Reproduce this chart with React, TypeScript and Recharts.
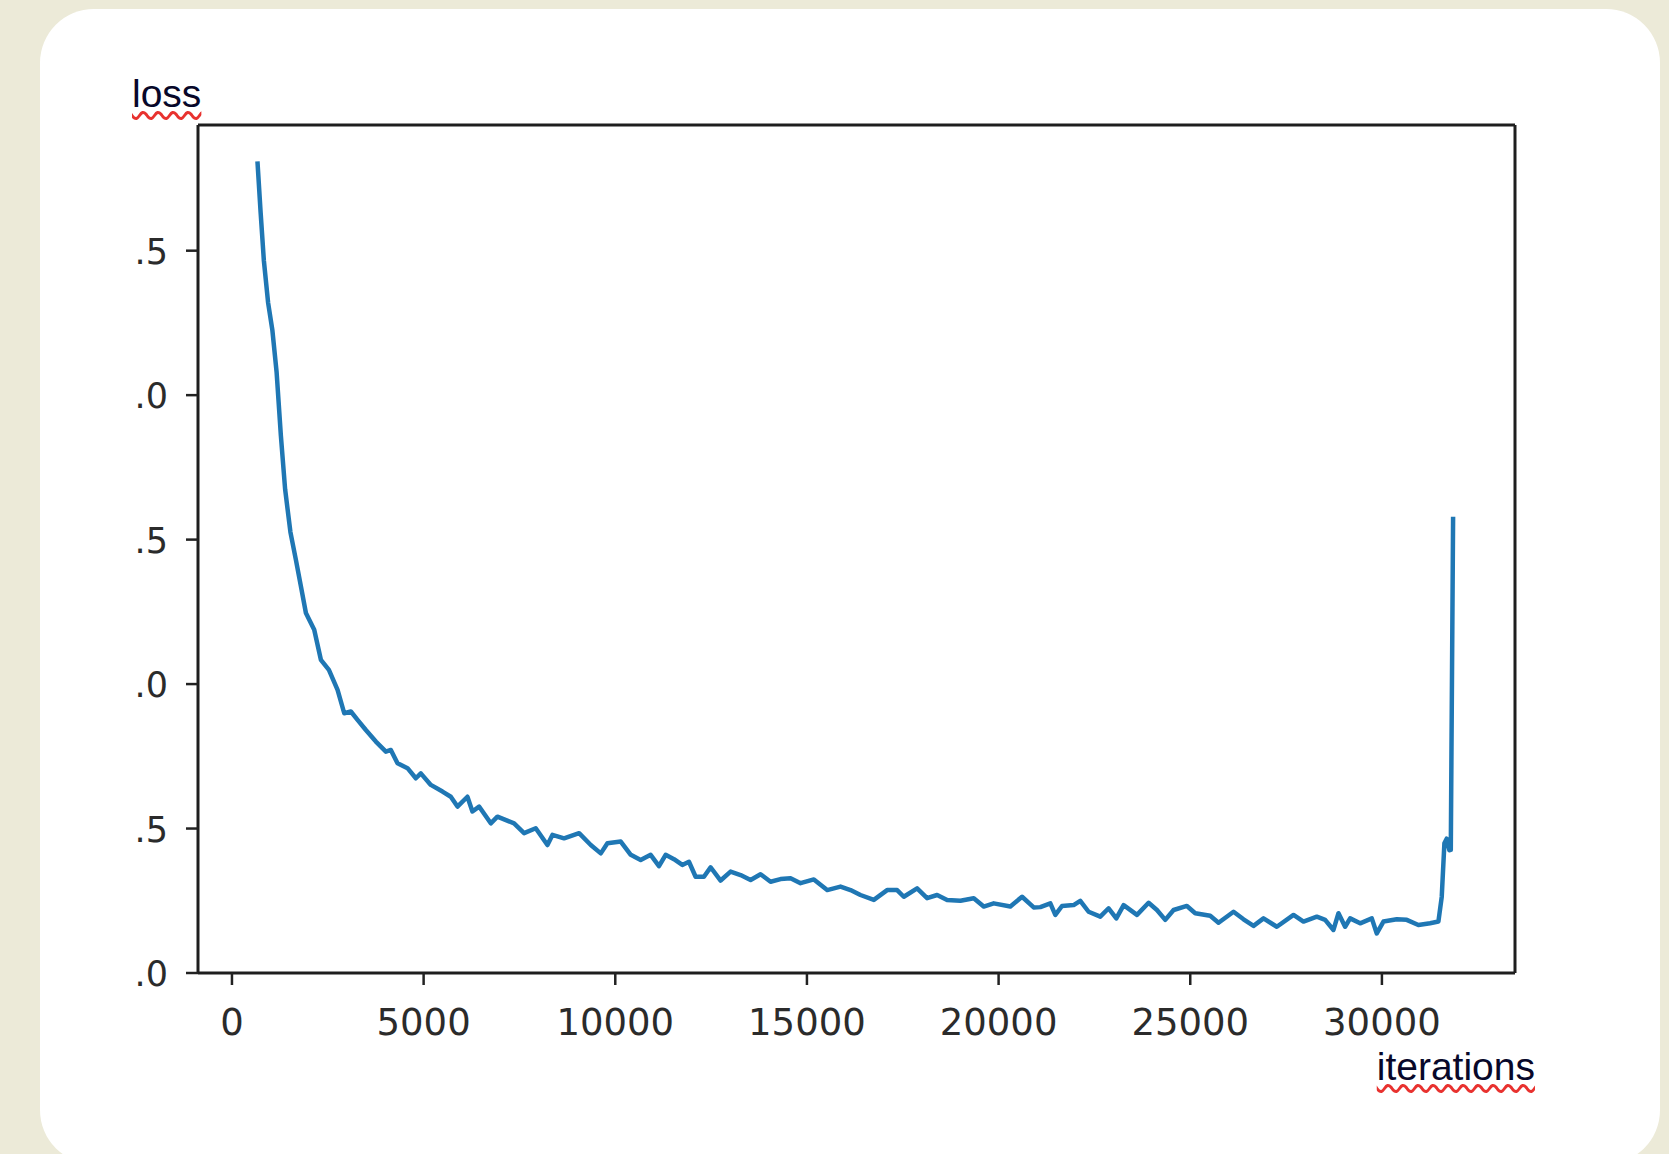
import React from "react";
import { LineChart, Line, XAxis, YAxis, ReferenceLine } from "recharts";

// training iterations (x) and loss (y)
const iterations = [
  665, 748, 832, 944, 1053, 1165, 1277, 1387, 1525, 1668, 1799, 1929, 2146,
  2320, 2529, 2755, 2929, 3102, 3276, 3493, 3754, 4015, 4145, 4319, 4580,
  4797, 4927, 5188, 5492, 5709, 5883, 6143, 6273, 6447, 6752, 6925, 7360,
  7621, 7925, 8230, 8360, 8664, 9056, 9361, 9622, 9795, 10143, 10404, 10662,
  10923, 11140, 11314, 11531, 11749, 11922, 12096, 12313, 12487, 12748, 13008,
  13269, 13530, 13790, 14051, 14312, 14573, 14833, 15181, 15528, 15876, 16137,
  16397, 16745, 17092, 17353, 17527, 17874, 18135, 18396, 18657, 19004, 19352,
  19612, 19873, 20307, 20612, 20916, 21089, 21350, 21480, 21654, 21957, 22131,
  22348, 22653, 22870, 23071, 23262, 23610, 23913, 24131, 24348, 24565, 24913,
  25130, 25521, 25738, 26129, 26390, 26651, 26911, 27259, 27694, 27954, 28302,
  28519, 28736, 28867, 29040, 29171, 29432, 29736, 29866, 30040, 30388, 30648,
  30952, 31257, 31474, 31561, 31630, 31690, 31760, 31797, 31857,
];

const loss = [
  2.809, 2.632, 2.466, 2.319, 2.226, 2.079, 1.858, 1.674, 1.526, 1.43, 1.338,
  1.246, 1.188, 1.084, 1.049, 0.98, 0.899, 0.905, 0.876, 0.841, 0.801, 0.766,
  0.772, 0.726, 0.709, 0.674, 0.691, 0.651, 0.628, 0.61, 0.576, 0.61, 0.559,
  0.576, 0.518, 0.541, 0.518, 0.484, 0.501, 0.443, 0.478, 0.466, 0.484, 0.443,
  0.414, 0.449, 0.455, 0.409, 0.391, 0.409, 0.37, 0.409, 0.394, 0.374, 0.385,
  0.333, 0.333, 0.366, 0.32, 0.351, 0.339, 0.322, 0.342, 0.316, 0.325, 0.328,
  0.311, 0.324, 0.287, 0.299, 0.287, 0.27, 0.253, 0.287, 0.287, 0.264, 0.293,
  0.259, 0.27, 0.253, 0.25, 0.259, 0.23, 0.241, 0.23, 0.264, 0.227, 0.228,
  0.241, 0.201, 0.232, 0.235, 0.25, 0.212, 0.195, 0.224, 0.189, 0.235, 0.201,
  0.243, 0.218, 0.184, 0.218, 0.232, 0.207, 0.198, 0.174, 0.212, 0.186, 0.163,
  0.189, 0.16, 0.201, 0.178, 0.195, 0.184, 0.149, 0.207, 0.16, 0.189, 0.172,
  0.189, 0.137, 0.178, 0.186, 0.184, 0.166, 0.172, 0.178, 0.264, 0.449, 0.465,
  0.425, 0.426, 1.579,
];

const xTicks = [0, 5000, 10000, 15000, 20000, 25000, 30000];
const yTicks = [0, 0.5, 1, 1.5, 2, 2.5];

const xDomain = [-886, 33472];
const yDomain = [0, 2.935];

const data = iterations.map((it, i) => ({ it, loss: loss[i] }));

const frame = { stroke: "#1e1e1e", strokeWidth: 3 };
const tickStroke = { stroke: "#222", strokeWidth: 2.5 };

const XTick = (props: any) => {
  const { x, y, payload } = props;
  return (
    <text
      x={x}
      y={y + 50}
      textAnchor="middle"
      fontFamily="DejaVu Sans"
      fontSize={37}
      fill="#2b2b2b"
    >
      {payload.value}
    </text>
  );
};

const YTick = (props: any) => {
  const { x, y, payload } = props;
  return (
    <text
      x={x}
      y={y + 13}
      textAnchor="end"
      fontFamily="DejaVu Sans"
      fontSize={35}
      fill="#2b2b2b"
    >
      {payload.value.toFixed(1)}
    </text>
  );
};

const labelStyle: React.CSSProperties = {
  position: "absolute",
  fontFamily: "'Liberation Sans', Arial, sans-serif",
  fontSize: 39,
  lineHeight: "39px",
  color: "#08082a",
  textDecoration: "underline wavy #e8322f",
  textDecorationThickness: 3,
  textUnderlineOffset: 4,
  whiteSpace: "nowrap",
};

export default function App() {
  return (
    <div
      style={{
        position: "absolute",
        left: 0,
        top: 0,
        width: 1669,
        height: 1154,
        background: "#ecead8",
        overflow: "hidden",
      }}
    >
      <div
        style={{
          position: "absolute",
          left: 40,
          top: 9,
          width: 1620,
          height: 1155,
          background: "#ffffff",
          borderRadius: 54,
        }}
      />
      <div style={{ position: "absolute", left: 135, top: 60, width: 1430, height: 1050, overflow: "hidden" }}>
        <LineChart
          width={1430}
          height={1050}
          data={data}
          margin={{ top: 65, right: 50, left: 0, bottom: 77 }}
        >
          <XAxis
            dataKey="it"
            type="number"
            domain={xDomain}
            ticks={xTicks}
            allowDataOverflow
            height={60}
            tickSize={12}
            tickMargin={0}
            axisLine={frame}
            tickLine={tickStroke}
            tick={<XTick />}
          />
          <YAxis
            type="number"
            domain={yDomain}
            ticks={yTicks}
            allowDataOverflow
            width={63}
            tickSize={12}
            tickMargin={18}
            axisLine={frame}
            tickLine={tickStroke}
            tick={<YTick />}
          />
          <ReferenceLine y={yDomain[1]} stroke={frame.stroke} strokeWidth={3} />
          <ReferenceLine x={xDomain[1]} stroke={frame.stroke} strokeWidth={3} />
          <Line
            type="linear"
            dataKey="loss"
            stroke="#1f77b4"
            strokeWidth={4.5}
            strokeLinejoin="round"
            dot={false}
            isAnimationActive={false}
          />
        </LineChart>
      </div>
      <div style={{ ...labelStyle, left: 132, top: 74 }}>loss</div>
      <div style={{ ...labelStyle, right: 134, top: 1047 }}>iterations</div>
    </div>
  );
}
